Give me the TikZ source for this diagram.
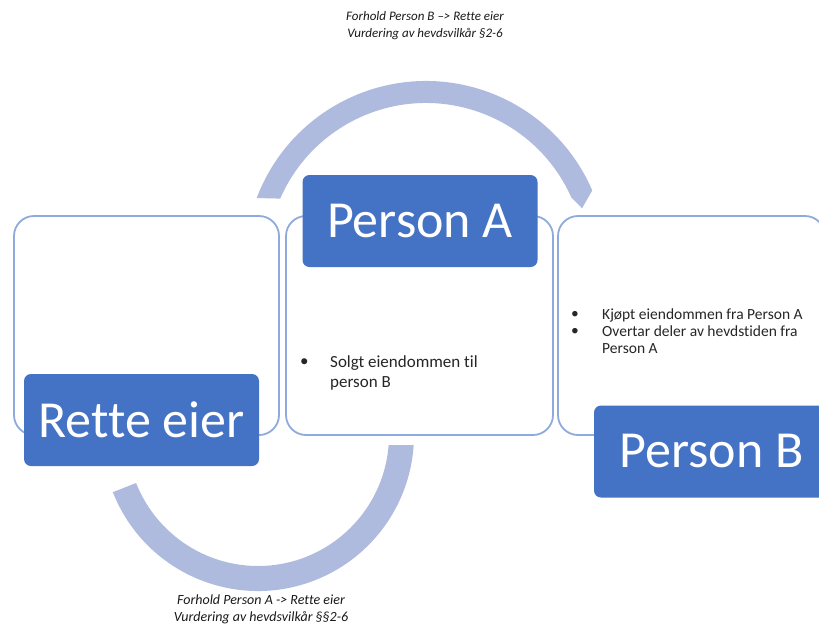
\documentclass[tikz,border=0pt]{standalone}
\usepackage{fontspec}
\setmainfont{Carlito}[Ligatures={NoCommon}]
\usetikzlibrary{calc}
\definecolor{boxblue}{HTML}{4472C4}
\definecolor{rimblue}{HTML}{8FAADC}
\definecolor{arcblue}{HTML}{AEBBDE}

\begin{document}
\begin{tikzpicture}
	[x=1pt, y=-1pt,
	panel/.style={draw=rimblue, line width=1.8pt, fill=white, rounded corners=20pt,
		minimum height=219pt},
	person/.style={fill=boxblue, text=white, rounded corners=7pt, inner sep=0pt,
		minimum width=235pt, minimum height=92pt, font=\fontsize{52}{60}\selectfont},
	item/.style={anchor=west, align=left, inner sep=0pt, text=black!85},
	note/.style={align=center, inner sep=0pt, text=black!90}]

	\useasboundingbox (0,0) rectangle (819,627);
	\clip (0,0) rectangle (819,627);

	% the three frames
	\node[panel, minimum width=265pt] (left) at (146.5,325.5) {};
	\node[panel, minimum width=267pt] (mid) at (419.5,325.5) {};
	\node[panel, minimum width=267pt] (right) at (691.5,325.5) {};

	% arcs
	\coordinate (tc) at (426,262);
	\coordinate (bc) at (258,435);
	\fill[arcblue] ($(tc)+(200.7:181)$) arc[start angle=200.7, end angle=336.7, radius=181]
		-- ($(tc)+(341:165)$) -- ($(tc)+(336:159)$)
		arc[start angle=336, end angle=203.5, radius=159] -- cycle;
	\fill[arcblue] ($(bc)+(158.5:156)$) arc[start angle=158.5, end angle=3.7, radius=156]
		-- ($(bc)+(4.4:131)$) arc[start angle=4.4, end angle=158.5, radius=131] -- cycle;

	% the persons
	\node[person] (pa) at (420,221) {Person A};
	\node[person] (re) at (141.5,420) {Rette eier};
	\node[person] (pb) at (711.5,451.5) {Person B};

	% bullets
	\node[item, font=\fontsize{17}{20}\selectfont] (sb) at (300,363) {•};
	\node[item, font=\fontsize{17}{20}\selectfont] (solgt) at (330,373) {Solgt eiendommen til\\person B};
	\node[item, font=\fontsize{15.5}{16.7}\selectfont] (kb) at (571,315) {•};
	\node[item, font=\fontsize{15.5}{16.7}\selectfont] (kjopt) at (602,315) {Kjøpt eiendommen fra Person A};
	\node[item, font=\fontsize{15.5}{16.7}\selectfont] (ob) at (571,332) {•};
	\node[item, font=\fontsize{15.5}{16.7}\selectfont] (overtar) at (602,340) {Overtar deler av hevdstiden fra\\Person A};

	% notes
	\node[note, font=\itshape\fontsize{13}{17}\selectfont] (top) at (425,26)
		{Forhold Person B –> Rette eier\\Vurdering av hevdsvilkår §2-6};
	\node[note, font=\itshape\fontsize{14}{17}\selectfont] (bot) at (261,609)
		{Forhold Person A -> Rette eier\\Vurdering av hevdsvilkår §§2-6};

\end{tikzpicture}
\end{document}
